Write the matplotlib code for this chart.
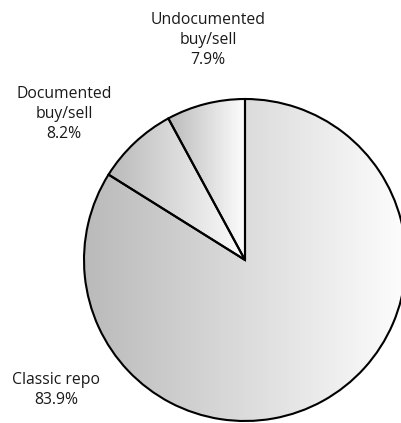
import numpy as np
import matplotlib
matplotlib.use("Agg")
import matplotlib.pyplot as plt
from matplotlib.colors import LinearSegmentedColormap

categories = ["Undocumented\nbuy/sell", "Documented\nbuy/sell", "Classic repo"]
values = [7.9, 8.2, 83.9]
pct_labels = ["7.9%", "8.2%", "83.9%"]

W, H = 402, 423
fig = plt.figure(figsize=(W / 100, H / 100), dpi=100)
ax = fig.add_axes([0, 0, 1, 1])

cx, cy, r = 245, 260, 161
# y axis is inverted below: data angle -90 is screen top, and clockwise in data
# space reads counter-clockwise on screen
wedges, _ = ax.pie(values, startangle=-90, counterclock=False, center=(cx, cy), radius=r,
                   frame=True,
                   wedgeprops=dict(facecolor="none", edgecolor="black", linewidth=1.5))

cmap = LinearSegmentedColormap.from_list("g", ["#bababa", "#fdfdfd"])
grad = np.linspace(0, 1, 256).reshape(1, -1)
for w in wedges:
    w.set_zorder(3)
    ext = w.get_path().get_extents(w.get_patch_transform())
    im = ax.imshow(grad, cmap=cmap, extent=(ext.x0, ext.x1, ext.y0, ext.y1),
                   aspect="auto", zorder=1, interpolation="bicubic")
    im.set_clip_path(w)

ax.set_xlim(0, W)
ax.set_ylim(H, 0)
ax.set_aspect("auto")
ax.axis("off")

label_pos = [(208, 40), (64, 114), (56, 390)]
font = dict(family="Open Sans", fontsize=11.3, color="#1a1a1a", ha="center", va="center",
            linespacing=1.3)
for cat, pct, (x, y) in zip(categories, pct_labels, label_pos):
    ax.text(x, y, cat + "\n" + pct, **font)

fig.savefig("out.png", dpi=100)
